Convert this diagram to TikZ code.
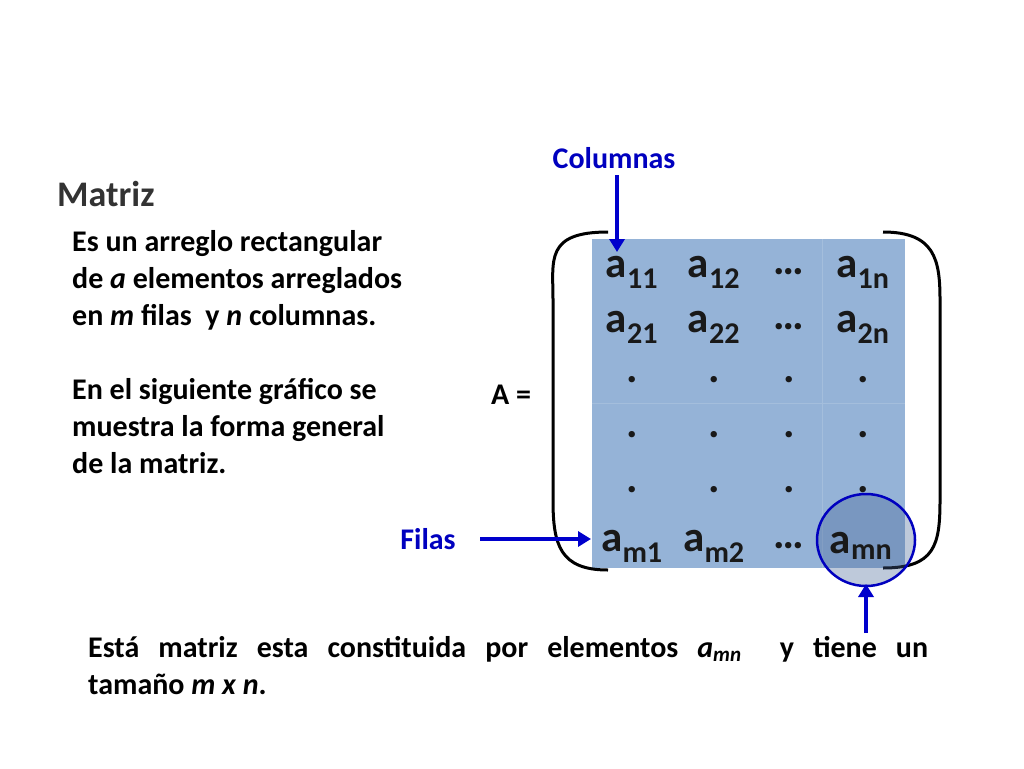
\documentclass[tikz,border=0pt]{standalone}
\usepackage{fontspec}
\setmainfont{Carlito}
\usetikzlibrary{arrows.meta}
\begin{document}
\begin{tikzpicture}[x=1pt,y=-1pt,
  txt/.style={font=\bfseries\fontsize{30}{37}\selectfont, inner sep=0, anchor=north west, align=left},
  ent/.style={font=\bfseries\fontsize{43}{43}\selectfont, inner sep=0, text=black!90},
  lbl/.style={font=\bfseries\fontsize{30}{30}\selectfont, inner sep=0},
  barrow/.style={draw=blue!80!black, line width=3.5pt, -{Triangle[length=13pt,width=15pt]}},
  paren/.style={draw=black, line width=3pt}]
\useasboundingbox (0,0) rectangle (1024,768);
\node[font=\bfseries\fontsize{36}{36}\selectfont, inner sep=0, text=black!80, anchor=west] (tit) at (57,194) {Matriz};
\node[txt] (d1) at (72,230) {Es un arreglo rectangular\\de \textit{a} elementos arreglados\\en \textit{m} filas\ \ y \textit{n} columnas.\\[37pt]En el siguiente gráfico se\\muestra la forma general\\de la matriz.};
\fill[fill={rgb,255:red,149;green,179;blue,215}] (592,239) rectangle (905,568);
\draw[white, opacity=0.15] (592,403) -- (905,403) (822,239) -- (822,568);
\draw[paren] (608,232) .. controls (545,232) and (553,260) .. (553,300) -- (553,500) .. controls (553,545) and (560,570) .. (608,570);
\draw[paren] (883,232) .. controls (935,232) and (940,260) .. (940,300) -- (940,500) .. controls (940,545) and (935,568) .. (883,568);
\foreach \r/\y in {1/272,2/327}{
 \node[ent] (e\r1) at (632,\y) {a\textsubscript{\r1}};
 \node[ent] (e\r2) at (714,\y) {a\textsubscript{\r2}};
 \node[ent] (e\r3) at (789,\y) {…};
 \node[ent] (e\r4) at (863,\y) {a\textsubscript{\r n}};
}
\foreach \r/\y in {3/380,4/435,5/490}{
 \foreach \c/\x in {1/632,2/714,3/789,4/863}{
  \node[ent] (e\r\c) at (\x,\y) {.};
 }
}
\fill[fill={rgb,255:red,70;green,100;blue,150}, fill opacity=0.35] (866,540) ellipse (49 and 46);
\draw[blue!75!black, line width=2.5pt] (866,540) ellipse (49 and 46);
\node[ent] (e61) at (632,546) {a\textsubscript{m1}};
\node[ent] (e62) at (714,546) {a\textsubscript{m2}};
\node[ent] (e63) at (789,546) {…};
\node[ent] (e64) at (861,546) {a\textsubscript{mn}};
\node[lbl, text=blue!75!black] (col) at (614,158) {Columnas};
\node[lbl, text=blue!75!black] (fil) at (428,539) {Filas};
\node[lbl] (A) at (511,395) {A =};
\coordinate (colt) at (617,252);
\coordinate (colb) at (617,175);
\coordinate (filt) at (591,539);
\coordinate (fils) at (480,539);
\coordinate (mnb) at (866,633);
\coordinate (mnt) at (866,584);
\draw[barrow] (colb) -- (colt);
\draw[barrow] (fils) -- (filt);
\draw[barrow] (mnb) -- (mnt);
\node[txt] (bot) at (88,636) {\makebox[840pt][s]{Está matriz esta constituida por elementos \textit{a\textsubscript{mn}}\ \ y tiene un}\\tamaño \textit{m x n}.};
\end{tikzpicture}
\end{document}
